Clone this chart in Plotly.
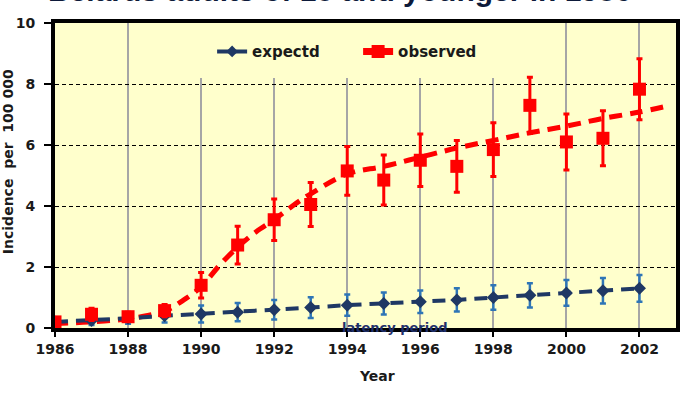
import plotly.graph_objects as go

years = list(range(1986, 2003))
expected = [0.2, 0.25, 0.32, 0.4, 0.46, 0.52, 0.6, 0.67, 0.75, 0.8, 0.86, 0.92, 1.0, 1.07, 1.15, 1.22, 1.3]
expected_err = [0.1, 0.15, 0.18, 0.22, 0.28, 0.3, 0.32, 0.34, 0.35, 0.36, 0.37, 0.38, 0.4, 0.4, 0.42, 0.42, 0.44]
observed = [0.2, 0.45, 0.37, 0.57, 1.4, 2.72, 3.55, 4.05, 5.15, 4.85, 5.5, 5.3, 5.85, 7.3, 6.1, 6.22, 7.83]
observed_err = [0.1, 0.2, 0.15, 0.2, 0.42, 0.62, 0.68, 0.72, 0.8, 0.82, 0.86, 0.85, 0.88, 0.92, 0.92, 0.9, 1.0]
fit_x = [1986, 1987, 1988, 1988.5, 1989, 1989.5, 1990, 1990.5, 1991, 1991.5, 1992, 1992.5,
         1993, 1994, 1995, 1996, 1997, 1998, 1999, 2000, 2001, 2002, 2002.7]
fit_y = [0.15, 0.2, 0.3, 0.4, 0.55, 0.9, 1.35, 2.05, 2.65, 3.15, 3.55, 4.0,
         4.4, 5.05, 5.3, 5.6, 5.9, 6.15, 6.4, 6.62, 6.87, 7.08, 7.26]
x_ticks = [1986, 1988, 1990, 1992, 1994, 1996, 1998, 2000, 2002]
y_ticks = [0, 2, 4, 6, 8, 10]

NAVY = "#1F3864"
ERRBLUE = "#2E75B6"
RED = "#FF0000"
BG = "#FFFFCC"
FONT = "DejaVu Sans"

fig = go.Figure()

# fitted curve (red dashed)
fig.add_trace(go.Scatter(x=fit_x, y=fit_y, mode="lines", showlegend=False,
                         line=dict(color=RED, width=5, dash="13px,8px", shape="spline")))
# expected
fig.add_trace(go.Scatter(x=years, y=expected, mode="lines+markers", showlegend=False,
                         line=dict(color=NAVY, width=4, dash="13px,8px"),
                         marker=dict(symbol="diamond", size=10, color=NAVY),
                         error_y=dict(type="data", array=expected_err, color=ERRBLUE,
                                      thickness=2.5, width=3)))
# observed
fig.add_trace(go.Scatter(x=years, y=observed, mode="markers", showlegend=False,
                         marker=dict(symbol="square", size=13, color=RED),
                         error_y=dict(type="data", array=observed_err, color=RED,
                                      thickness=3, width=3)))
# legend entries
fig.add_trace(go.Scatter(x=[None], y=[None], mode="lines+markers", name="expectd",
                         line=dict(color=NAVY, width=4),
                         marker=dict(symbol="diamond", size=9, color=NAVY)))
fig.add_trace(go.Scatter(x=[None], y=[None], mode="lines+markers", name="observed",
                         line=dict(color=RED, width=7),
                         marker=dict(symbol="square", size=13, color=RED)))

fig.update_layout(
    width=695, height=396,
    margin=dict(l=55, r=19, t=23, b=68, autoexpand=False),
    paper_bgcolor="white",
    plot_bgcolor=BG,
    font=dict(family=FONT, color="#1a1a1a"),
    legend=dict(orientation="h", x=0.253, y=0.96, xanchor="left", yanchor="top",
                bgcolor="rgba(0,0,0,0)", font=dict(size=15, family=FONT, weight="bold"),
                entrywidth=101, entrywidthmode="pixels", itemwidth=30),
    xaxis=dict(range=[1986, 2003], tickvals=x_ticks, ticktext=[str(t) for t in x_ticks],
               showgrid=True, gridcolor="#a6a6a6", gridwidth=1.5,
               showline=True, linecolor="black", linewidth=4, mirror=True,
               ticks="outside", ticklen=5, tickcolor="black", tickwidth=1.5,
               tickfont=dict(size=14, family=FONT, weight="bold", color="#1a1a1a"),
               zeroline=False, automargin=False),
    yaxis=dict(range=[0, 10], tickvals=y_ticks, ticktext=[str(t) for t in y_ticks],
               showgrid=True, gridcolor="black", gridwidth=1.2, griddash="4px,3px",
               showline=True, linecolor="black", linewidth=4, mirror=True,
               ticks="outside", ticklen=7, tickcolor="black", tickwidth=1.5,
               ticklabelstandoff=6,
               tickfont=dict(size=14, family=FONT, weight="bold", color="#1a1a1a"),
               zeroline=False, automargin=False),
)

# legend panel hiding vertical gridlines (as in original)
fig.add_shape(type="rect", xref="x", yref="y", x0=1988.2, x1=1999.7, y0=8.2, y1=10,
              fillcolor=BG, line=dict(width=0), layer="between")

# axis titles
fig.add_annotation(text="Incidence\u00a0\u00a0per\u00a0\u00a0100\u00a0000", textangle=-90,
                   x=-0.0757, y=0.547, xref="paper", yref="paper", showarrow=False,
                   xanchor="center", yanchor="middle",
                   font=dict(size=14, family=FONT, weight="bold", color="#1a1a1a"))
fig.add_annotation(text="Year", x=0.519, y=-0.159, xref="paper", yref="paper",
                   showarrow=False, xanchor="center", yanchor="middle",
                   font=dict(size=14, family=FONT, weight="bold", color="#1a1a1a"))

fig.add_annotation(text="latency period", x=1995.3, y=0.03, xref="x", yref="y",
                   showarrow=False, xanchor="center", yanchor="middle",
                   font=dict(size=13, family=FONT, weight="bold", color="#1F2F6B"))

fig.add_annotation(text="Belarus adults of 15 and younger in 1986", x=0.459, y=1.046,
                   xref="paper", yref="paper", showarrow=False, xanchor="center",
                   yanchor="bottom", font=dict(size=30, family="Liberation Sans", weight="bold",
                                               color="#0d1a3a"))

fig.write_html("out.html", config={"displayModeBar": False},
               post_script="document.body.style.margin='0';")
